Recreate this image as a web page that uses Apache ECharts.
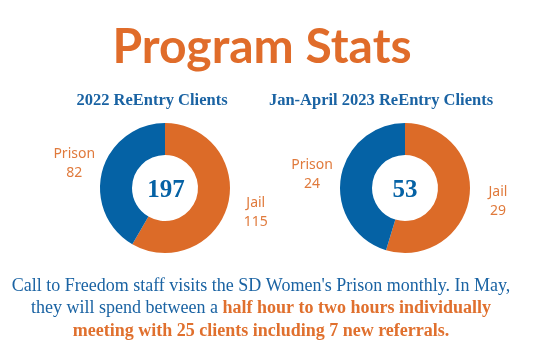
<!DOCTYPE html>
<html><head><meta charset="utf-8">
<script src="https://cdn.jsdelivr.net/npm/echarts@6/dist/echarts.min.js"></script>
<style>html,body{margin:0;padding:0;background:#fff}#c{width:550px;height:350px}</style>
</head><body><div id="c"></div>
<script>
const categories = ['Jail', 'Prison'];
const clients2022 = [115, 82];
const clients2023 = [29, 24];
const chartTitle = 'Program Stats';
const panelTitles = ['2022 ReEntry Clients', 'Jan-April 2023 ReEntry Clients'];
const noteLine1 = "Call to Freedom staff visits the SD Women's Prison monthly. In May,";
const noteLine2a = 'they will spend between a ';
const noteLine2b = 'half hour to two hours individually';
const noteLine3 = 'meeting with 25 clients including 7 new referrals.';

const BLUE = '#0562a5', ORANGE = '#dc6b28', LABEL_ORANGE = '#e07a3c', TEXT_BLUE = '#1a63a3';
const sliceColors = [ORANGE, BLUE];

function donut(values, cx) {
  const data = categories.map((c, i) => ({ name: c, value: values[i], itemStyle: { color: sliceColors[i] } }));
  return [
    {
      type: 'pie', center: [cx, 188], radius: [33, 65], startAngle: 90, clockwise: true,
      data: data, label: { show: false }, labelLine: { show: false },
      emphasis: { disabled: true }, silent: true
    },
    {
      type: 'pie', center: [cx, 188], radius: [91, 91], startAngle: 90, clockwise: true,
      data: categories.map((c, i) => ({ name: c, value: values[i] })),
      itemStyle: { color: 'rgba(0,0,0,0)' },
      label: {
        show: true, position: 'inside', formatter: '{b}\n{c}',
        fontFamily: 'Noto Sans', fontSize: 14, lineHeight: 19, color: LABEL_ORANGE
      },
      labelLine: { show: false }, emphasis: { disabled: true }, silent: true
    }
  ];
}
const sum = a => a.reduce((s, v) => s + v, 0);

const chart = echarts.init(document.getElementById('c'), null, { renderer: 'canvas' });
chart.setOption({
  animation: false,
  backgroundColor: '#ffffff',
  title: [
    { text: chartTitle, left: 262, top: 48, padding: 0, textAlign: 'center', textVerticalAlign: 'middle',
      textStyle: { fontFamily: 'Lato', fontWeight: 'bold', fontSize: 48, color: '#e06c2a' } },
    { text: panelTitles[0], left: 152, top: 100.5, padding: 0, textAlign: 'center', textVerticalAlign: 'middle',
      textStyle: { fontFamily: 'Liberation Serif', fontWeight: 'bold', fontSize: 16.5, color: TEXT_BLUE } },
    { text: panelTitles[1], left: 381, top: 100.5, padding: 0, textAlign: 'center', textVerticalAlign: 'middle',
      textStyle: { fontFamily: 'Liberation Serif', fontWeight: 'bold', fontSize: 16.5, color: TEXT_BLUE } },
    { text: String(sum(clients2022)), left: 166, top: 191, padding: 0, textAlign: 'center', textVerticalAlign: 'middle',
      textStyle: { fontFamily: 'Liberation Serif', fontWeight: 'bold', fontSize: 25, color: BLUE } },
    { text: String(sum(clients2023)), left: 405, top: 191, padding: 0, textAlign: 'center', textVerticalAlign: 'middle',
      textStyle: { fontFamily: 'Liberation Serif', fontWeight: 'bold', fontSize: 25, color: BLUE } },
    { text: '{b|' + noteLine1 + '}\n{b|' + noteLine2a + '}{o|' + noteLine2b + '}\n{o|' + noteLine3 + '}',
      left: 261, top: 275, padding: 0, textAlign: 'center',
      textStyle: {
        fontWeight: 'normal',
        rich: {
          b: { fontFamily: 'Liberation Serif', fontSize: 18, lineHeight: 22.5, fontWeight: 'normal', color: TEXT_BLUE },
          o: { fontFamily: 'Liberation Serif', fontSize: 18, lineHeight: 22.5, fontWeight: 'bold', color: '#e0702e' }
        }
      } }
  ],
  series: [].concat(donut(clients2022, 165), donut(clients2023, 405))
});
</script></body></html>
